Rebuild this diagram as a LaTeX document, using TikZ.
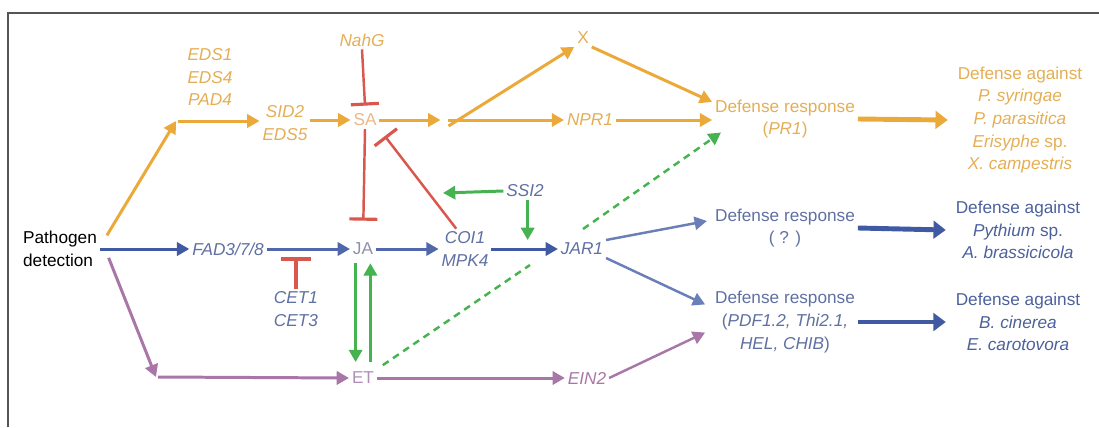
\documentclass[tikz,border=0pt]{standalone}
\usepackage{fontspec}
\setmainfont{Liberation Sans}
\usetikzlibrary{arrows.meta}

\definecolor{yline}{HTML}{EBA93A}
\definecolor{ytext}{HTML}{E4AE55}
\definecolor{satext}{HTML}{EBB787}
\definecolor{bline}{HTML}{5068AA}
\definecolor{bdark}{HTML}{3F5AA3}
\definecolor{btext}{HTML}{6070A2}
\definecolor{jatext}{HTML}{8A92AC}
\definecolor{pline}{HTML}{A877A8}
\definecolor{ptext}{HTML}{B08EB8}
\definecolor{gline}{HTML}{45B34F}
\definecolor{redline}{HTML}{D9574D}
\definecolor{framegray}{HTML}{555555}

\begin{document}
\begin{tikzpicture}[
    x=0.02cm, y=-0.02cm,
    txt/.style={font=\fontsize{9.8}{12.9}\selectfont, align=center, inner sep=1.5pt},
    gene/.style={txt, font=\fontsize{9.8}{12.9}\selectfont\itshape},
    arr/.style={-{Triangle[length=7pt,width=7.5pt]}, line width=1.7pt},
    bigarr/.style={-{Triangle[length=7pt,width=10pt]}, line width=2.8pt},
    inhibit/.style={-{Bar[width=16pt,line width=1.8pt]}, line width=1.4pt, redline},
    frame/.style={draw=framegray, line width=0.9pt}
]
    \useasboundingbox (0,0) rectangle (1099,427);
    \draw[frame] (8,427) |- (1099,13);

    % --- START ---
    \node[txt, align=left] (path) at (60,249) {Pathogen\\detection};

    % --- SA BRANCH (top) ---
    \node[gene, ytext] (eds) at (210,77) {EDS1\\EDS4\\PAD4};
    \node[gene, ytext] (sid) at (285,123) {SID2\\EDS5};
    \node[txt, satext] (SA) at (365,120) {SA};
    \node[gene, ytext] (nahg) at (362,40) {NahG};
    \node[txt, ytext] (X) at (583,38) {X};
    \node[gene, ytext] (npr) at (590,120) {NPR1};
    \node[txt, ytext] (pr1) at (785,119) {Defense response\\(\textit{PR1})};
    \node[txt, ytext] (dagA) at (1020,120) {Defense against\\\textit{P. syringae}\\\textit{P. parasitica}\\\textit{Erisyphe} sp.\\\textit{X. campestris}};
    \coordinate (c1) at (176,121);
    \coordinate (c3) at (444,120);

    % --- JA BRANCH (middle) ---
    \node[gene, btext] (fad) at (228,249) {FAD3/7/8};
    \node[txt, jatext] (JA) at (363,249) {JA};
    \node[gene, btext] (coi) at (465,249) {COI1\\MPK4};
    \node[gene, btext] (ssi) at (525,191) {SSI2};
    \node[gene, btext] (jar) at (582,249) {JAR1};
    \node[gene, btext] (cet) at (296,309) {CET1\\CET3};
    \node[txt, btext] (drq) at (785,228) {Defense response\\( ? )};
    \node[txt, btext] (drp) at (785,322) {Defense response\\(\textit{PDF1.2, Thi2.1,}\\\textit{HEL, CHIB})};
    \node[txt, bdark!80!gray] (dagB) at (1018,230) {Defense against\\\textit{Pythium} sp.\\\textit{A. brassicicola}};
    \node[txt, bdark!80!gray] (dagC) at (1018,322) {Defense against\\\textit{B. cinerea}\\\textit{E. carotovora}};
    \coordinate (s1) at (443,193);

    % --- ET BRANCH (bottom) ---
    \node[txt, ptext] (ET) at (363,378) {ET};
    \node[gene, pline] (ein) at (587,378) {EIN2};
    \coordinate (c2) at (156,377);

    % --- YELLOW CONNECTIONS ---
    \draw[arr, yline] ([xshift=4pt,yshift=-4pt]path.north east) -- (c1);
    \draw[arr, yline] ([xshift=1pt]c1) -- (c1 -| sid.west);
    \draw[arr, yline] (sid.east |- SA) -- (SA.west);
    \draw[arr, yline, shorten >=2pt] (SA.east) -- (c3);
    \draw[arr, yline, shorten <=3pt] ([yshift=-5pt]c3) -- (X.south west);
    \draw[arr, yline, shorten <=2pt] (c3) -- (npr.west);
    \draw[arr, yline] (X.south east) -- ([yshift=-3pt]pr1.north west);
    \draw[arr, yline] (npr.east) -- (pr1.west |- npr);
    \draw[bigarr, yline] (pr1.east) -- ([xshift=-4pt]dagA.west);

    % --- RED INHIBITIONS ---
    \draw[inhibit] (nahg.south) -- ([yshift=3pt]SA.north);
    \draw[inhibit, shorten >=11pt] (SA.south) -- (JA.north);
    \draw[inhibit, shorten >=5pt] ([xshift=-5pt]coi.north) -- (SA.south east);
    \draw[inhibit, -{Bar[width=17pt,line width=2.6pt]}, line width=1.8pt] (cet.north) -- ([yshift=1pt]cet.north |- fad.south);

    % --- BLUE CONNECTIONS ---
    \draw[arr, bdark] (path.east) -- (fad.west);
    \draw[arr, bline] (fad.east) -- (JA.west);
    \draw[arr, bline] (JA.east) -- (coi.west);
    \draw[arr, bdark] (coi.east) -- (jar.west);
    \draw[arr, bline!85!white, line width=1.4pt] (jar.north east) -- ([xshift=-3pt,yshift=4pt]drq.west);
    \draw[arr, bline!85!white, line width=1.4pt] (jar.south east) -- ([xshift=-4pt,yshift=10pt]drp.west);
    \draw[bigarr, bdark] (drq.east) -- ([xshift=-4pt]dagB.west);
    \draw[bigarr, bdark] (drp.east) -- ([xshift=-4pt]dagC.west);

    % --- PURPLE CONNECTIONS ---
    \draw[arr, pline] ([xshift=5pt,yshift=-5pt]path.east) -- (c2);
    \draw[arr, pline] ([xshift=1pt]c2) -- (ET.west);
    \draw[arr, pline] (ET.east) -- (ein.west);
    \draw[arr, pline, line width=1.4pt] (ein.east) -- ([xshift=-4pt,yshift=-6pt]drp.west);

    % --- GREEN CONNECTIONS ---
    \draw[arr, gline, line width=2pt, shorten <=3pt, shorten >=4pt] ([xshift=-4.2pt]JA.south) -- ([xshift=-4.2pt]ET.north);
    \draw[arr, gline, line width=2pt, shorten <=4pt, shorten >=3pt] ([xshift=4.2pt]ET.north) -- ([xshift=4.2pt]JA.south);
    \draw[arr, gline] (ssi.west) -- (s1);
    \draw[arr, gline] ([xshift=1.5pt]ssi.south) -- ([xshift=1.5pt]ssi.south |- jar.north);
    \coordinate (gA) at (530,265);
    \coordinate (gB) at (583,229);
    \draw[gline, line width=1.4pt, dash pattern=on 4pt off 3pt, shorten <=4pt] (ET.north east) -- (gA);
    \draw[arr, gline, line width=1.4pt, dash pattern=on 4pt off 3pt] (gB) -- ([xshift=5pt,yshift=5pt]pr1.south west);

\end{tikzpicture}
\end{document}
